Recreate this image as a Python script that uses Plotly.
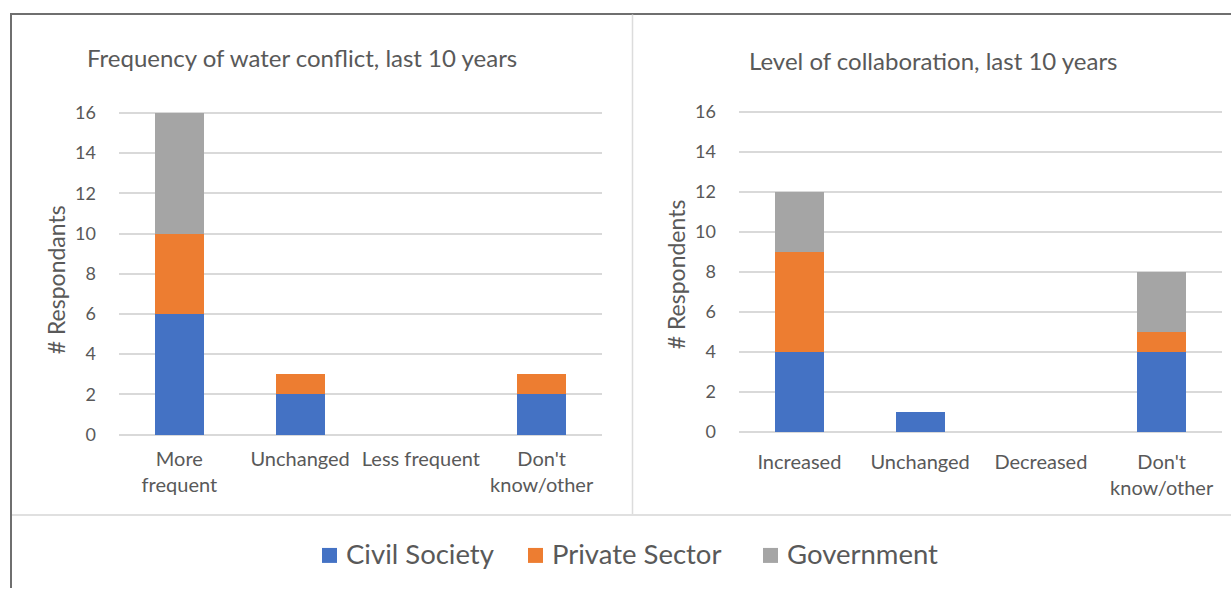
import plotly.graph_objects as go

W, H = 1231, 596

# Survey responses, stacked by respondent sector
series_names = ["Civil Society", "Private Sector", "Government"]
series_colors = ["#4472C4", "#ED7D31", "#A5A5A5"]

conflict_categories = ["More frequent", "Unchanged", "Less frequent", "Don't know/other"]
conflict_ticktext = ["More<br>frequent", "Unchanged", "Less frequent", "Don't<br>know/other"]
conflict_civil = [6, 2, 0, 2]
conflict_private = [4, 1, 0, 1]
conflict_government = [6, 0, 0, 0]

collab_categories = ["Increased", "Unchanged", "Decreased", "Don't know/other"]
collab_ticktext = ["Increased", "Unchanged", "Decreased", "Don't<br>know/other"]
collab_civil = [4, 1, 0, 4]
collab_private = [5, 0, 0, 1]
collab_government = [3, 0, 0, 3]

y_ticks = [0, 2, 4, 6, 8, 10, 12, 14, 16]

FONT = "Lato"
TEXT = "#595959"
GRID = "#d9d9d9"

# The page shows the figure with a small top offset and a slightly shorter
# drawing height; vertical pixel positions are mapped through that.
Y_OFFSET = 9.4
Y_SCALE = 0.971


def px_x(p):
    return p / W


def px_y(p):
    return 1 - ((p - Y_OFFSET) / Y_SCALE) / H


fig = go.Figure()

conflict_values = [conflict_civil, conflict_private, conflict_government]
collab_values = [collab_civil, collab_private, collab_government]

for name, color, vals in zip(series_names, series_colors, conflict_values):
    fig.add_trace(go.Bar(x=conflict_categories, y=vals, name=name,
                         marker=dict(color=color, line=dict(width=0)),
                         xaxis="x", yaxis="y", showlegend=False))
for name, color, vals in zip(series_names, series_colors, collab_values):
    fig.add_trace(go.Bar(x=collab_categories, y=vals, name=name,
                         marker=dict(color=color, line=dict(width=0)),
                         xaxis="x2", yaxis="y2", showlegend=False))

ytick_font = dict(family=FONT, size=18, color=TEXT)
xtick_font = dict(family=FONT, size=20, color=TEXT)

common_y = dict(range=[-0.1, 16.1], tickvals=y_ticks, showgrid=True,
                gridcolor=GRID, gridwidth=1.5, zeroline=False, showline=False,
                ticks="", tickfont=ytick_font, ticklabelstandoff=22,
                fixedrange=True)
common_x = dict(showgrid=False, zeroline=False, showline=False, ticks="",
                tickfont=xtick_font, tickangle=0, fixedrange=True)

fig.update_layout(
    width=W, height=H,
    margin=dict(l=0, r=0, t=0, b=0),
    paper_bgcolor="white", plot_bgcolor="white",
    barmode="stack", bargap=0.595,
    font=dict(family=FONT, color=TEXT),
    xaxis=dict(domain=[px_x(119), px_x(602)], anchor="y",
               ticktext=conflict_ticktext, tickvals=conflict_categories,
               ticklabelstandoff=8, **common_x),
    yaxis=dict(domain=[px_y(436.5), px_y(110.5)], anchor="x", **common_y),
    xaxis2=dict(domain=[px_x(739), px_x(1222)], anchor="y2",
                ticktext=collab_ticktext, tickvals=collab_categories,
                ticklabelstandoff=14, **common_x),
    yaxis2=dict(domain=[px_y(433.7), px_y(109.7)], anchor="x2", **common_y),
)

# Frame lines around the two chart panels and the legend strip
frame = dict(xref="paper", yref="paper", type="line")
shapes = [
    dict(x0=px_x(10), x1=1, y0=px_y(13.5), y1=px_y(13.5),
         line=dict(color="#6f6f6f", width=2), **frame),
    dict(x0=px_x(11), x1=px_x(11), y0=px_y(13), y1=0,
         line=dict(color="#6f6f6f", width=2), **frame),
    dict(x0=px_x(632.5), x1=px_x(632.5), y0=px_y(14), y1=px_y(515),
         line=dict(color="#dcdcdc", width=1.5), **frame),
    dict(x0=px_x(12), x1=1, y0=px_y(515), y1=px_y(515),
         line=dict(color="#e0e0e0", width=2), **frame),
]

annotations = [
    dict(text="Frequency of water conflict, last 10 years", x=px_x(302), y=px_y(57),
         xref="paper", yref="paper", xanchor="center", yanchor="middle",
         showarrow=False, font=dict(family=FONT, size=24, color=TEXT)),
    dict(text="Level of collaboration, last 10 years", x=px_x(933), y=px_y(60),
         xref="paper", yref="paper", xanchor="center", yanchor="middle",
         showarrow=False, font=dict(family=FONT, size=24, color=TEXT)),
    dict(text="# Respondants", x=px_x(56), y=px_y(280), textangle=-90,
         xref="paper", yref="paper", xanchor="center", yanchor="middle",
         showarrow=False, font=dict(family=FONT, size=23, color=TEXT)),
    dict(text="# Respondents", x=px_x(676), y=px_y(274), textangle=-90,
         xref="paper", yref="paper", xanchor="center", yanchor="middle",
         showarrow=False, font=dict(family=FONT, size=23, color=TEXT)),
]

# Shared legend strip below both panels
legend_square_x = [322, 528, 763]
for name, color, sx in zip(series_names, series_colors, legend_square_x):
    shapes.append(dict(type="rect", xref="paper", yref="paper",
                       x0=px_x(sx), x1=px_x(sx + 15),
                       y0=px_y(563), y1=px_y(548),
                       fillcolor=color, line=dict(width=0)))
    annotations.append(dict(text=name, x=px_x(sx + 22), y=px_y(554),
                            xref="paper", yref="paper", xanchor="left",
                            yanchor="middle", showarrow=False,
                            font=dict(family=FONT, size=27.5, color=TEXT)))

fig.update_layout(shapes=shapes, annotations=annotations)

fig.write_html("out.html")
